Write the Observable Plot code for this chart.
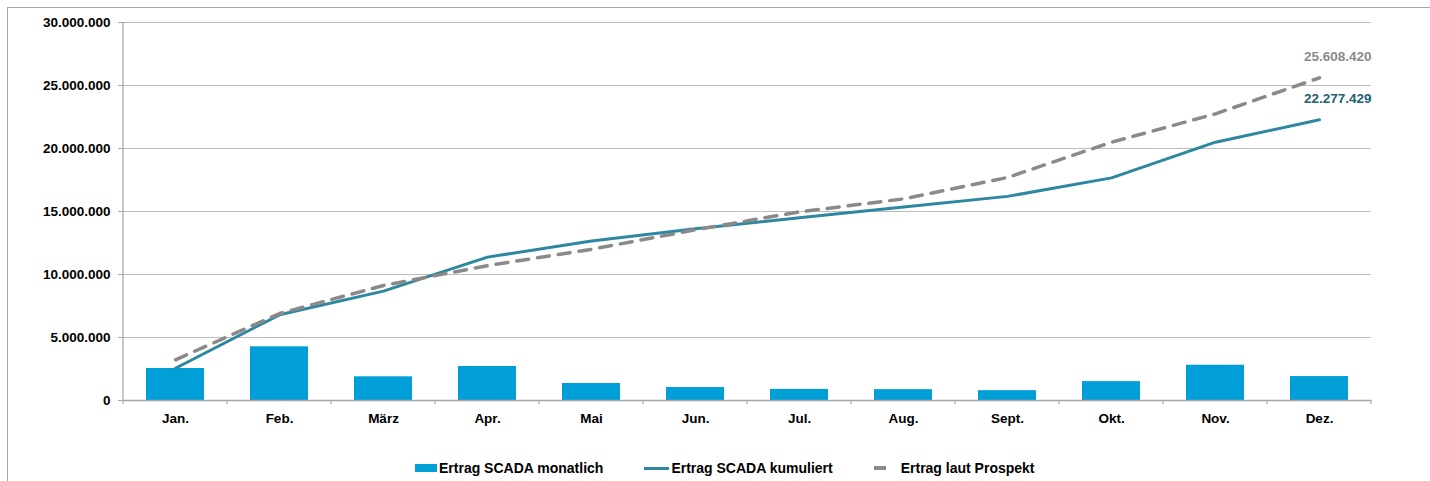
<!DOCTYPE html>
<html><head><meta charset="utf-8">
<script src="https://cdn.jsdelivr.net/npm/d3@7"></script>
<script src="https://cdn.jsdelivr.net/npm/@observablehq/plot@0.6"></script>
<style>
body{margin:0;background:#fff;font-family:"Liberation Sans",Arial,sans-serif;}
#wrap{position:relative;width:1430px;height:481px;overflow:hidden;}
#frame{position:absolute;left:7px;top:7px;width:1440px;height:490px;border-top:1px solid #a6a6a6;border-left:1px solid #a6a6a6;}
#chart{position:absolute;left:0;top:0;}
#legend{position:absolute;top:460px;left:415px;display:flex;align-items:center;height:16px;font-size:14px;font-weight:bold;color:#000;white-space:nowrap;}
#legend .item{display:flex;align-items:center;}
#legend .sw{display:inline-block;}
</style>
</head><body>
<div id="wrap"><div id="frame"></div><div id="chart"></div><div id="legend"></div></div>
<script>
const months = ["Jan.","Feb.","März","Apr.","Mai","Jun.","Jul.","Aug.","Sept.","Okt.","Nov.","Dez."];
const monthly = [2540000, 4260000, 1880000, 2700000, 1350000, 1030000, 880000, 860000, 780000, 1500000, 2800000, 1900000];
const cumulative = [2560000, 6800000, 8680000, 11380000, 12660000, 13630000, 14500000, 15360000, 16200000, 17670000, 20500000, 22277429];
const prospekt = [3230000, 6900000, 9130000, 10700000, 12000000, 13550000, 14970000, 16000000, 17700000, 20500000, 22750000, 25608420];
const yTicks = [0, 5000000, 10000000, 15000000, 20000000, 25000000, 30000000];
const seriesNames = ["Ertrag SCADA monatlich", "Ertrag SCADA kumuliert", "Ertrag laut Prospekt"];
const colors = {bar:"#009fd8", cum:"#2e87a1", pro:"#8a8a8a", cumLabel:"#235f70", grid:"#bcbcbc", axis:"#a6a6a6"};

const de = d3.formatLocale({decimal:",", thousands:".", grouping:[3], currency:["","€"]});
const fmt = de.format(",.0f");

const rows = months.map((m,i)=>({month:m, monthly:monthly[i], cum:cumulative[i], pro:prospekt[i]}));
const last = rows[rows.length-1];

const chart = Plot.plot({
  width:1430, height:450,
  marginLeft:123, marginRight:59, marginTop:22, marginBottom:50,
  style:{fontFamily:"Liberation Sans, Arial, sans-serif", fontSize:"13.5px", fontWeight:"bold", color:"#000", background:"transparent", overflow:"visible"},
  x:{domain:months, paddingInner:0.44, paddingOuter:0.22, label:null},
  y:{domain:[0,30000000], label:null},
  marks:[
    Plot.gridY(yTicks, {stroke:colors.grid, strokeOpacity:1, strokeWidth:1}),
    Plot.axisY({ticks:yTicks, tickFormat:fmt, tickSize:5, tickPadding:8, stroke:colors.axis, fill:"#000", label:null}),
    Plot.axisX({tickSize:0, tickPadding:13, fill:"#000", label:null}),
    Plot.barY(rows, {x:"month", y:"monthly", fill:colors.bar}),
    Plot.ruleY([0], {stroke:colors.axis, strokeWidth:1.5}),
    Plot.line(rows, {x:"month", y:"cum", stroke:colors.cum, strokeWidth:3}),
    Plot.line(rows, {x:"month", y:"pro", stroke:colors.pro, strokeWidth:3.5, strokeDasharray:"12,9"}),
    Plot.text([last], {x:"month", y:"pro", text:d=>fmt(d.pro), dx:52, dy:-21, textAnchor:"end", fill:colors.pro, fontWeight:"bold", fontSize:13.5}),
    Plot.text([last], {x:"month", y:"cum", text:d=>fmt(d.cum), dx:52, dy:-21, textAnchor:"end", fill:colors.cumLabel, fontWeight:"bold", fontSize:13.5})
  ]
});

// axis line and band-boundary ticks from the library's scales
const sx = chart.scale("x"), sy = chart.scale("y");
const svg = d3.select(chart.tagName.toLowerCase()==="svg" ? chart : chart.querySelector("svg"));
const gap = (sx.step - sx.bandwidth)/2;
const bounds = months.map(m=>sx.apply(m)-gap).concat([sx.apply(months[months.length-1])-gap+sx.step]);
const y0 = sy.apply(0), yTop = sy.apply(30000000);
const g = svg.append("g");
g.append("line").attr("x1",sx.range[0]).attr("x2",sx.range[0]).attr("y1",yTop).attr("y2",y0).attr("stroke",colors.axis).attr("stroke-width",1.2);
g.selectAll("line.bt").data(bounds).join("line").attr("class","bt")
  .attr("x1",d=>d).attr("x2",d=>d).attr("y1",y0).attr("y2",y0+4).attr("stroke",colors.axis).attr("stroke-width",1.2);
document.getElementById("chart").appendChild(chart);

// legend
const lg = d3.select("#legend");
const i1 = lg.append("div").attr("class","item");
i1.append("span").attr("class","sw").style("width","22px").style("height","8px").style("background",colors.bar).style("margin-right","2px");
i1.append("span").text(seriesNames[0]);
const i2 = lg.append("div").attr("class","item").style("margin-left","41px");
i2.append("span").attr("class","sw").style("width","25px").style("height","3px").style("background",colors.cum).style("margin-right","2px");
i2.append("span").text(seriesNames[1]);
const i3 = lg.append("div").attr("class","item").style("margin-left","41px");
i3.append("span").attr("class","sw").style("width","12px").style("height","4px").style("background",colors.pro).style("margin-right","15px");
i3.append("span").text(seriesNames[2]);
</script>
</body></html>
